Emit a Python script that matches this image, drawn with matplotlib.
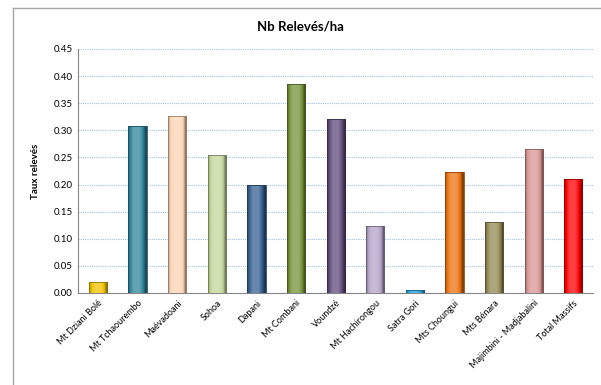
import numpy as np
import matplotlib.pyplot as plt
from matplotlib.colors import to_rgb
from matplotlib.patches import Rectangle
from matplotlib.lines import Line2D

massifs = ['Mt Dziani Bolé', 'Mt Tchaourembo', 'Maévadoani', 'Sohoa', 'Dapani',
           'Mt Combani', 'Voundzé', 'Mt Hachirongou', 'Satra Gori', 'Mts Choungui',
           'Mts Bénara', 'Majimbini - Madjabalini', 'Total Massifs']
taux = [0.020, 0.308, 0.327, 0.255, 0.199, 0.386, 0.321, 0.124, 0.006, 0.223,
        0.131, 0.266, 0.210]
couleurs = ['#F2C200', '#31859C', '#FCD5B5', '#C3D69B', '#376092', '#77933C',
            '#604A7B', '#B3A2C7', '#1FA0DA', '#EE7211', '#948A54', '#D99694',
            '#FF0000']
yticks = np.arange(0, 0.451, 0.05)

plt.rcParams['font.family'] = ['Lato', 'DejaVu Sans']

fig = plt.figure(figsize=(6.01, 3.85), dpi=100)
# bord gris (haut et gauche) du cadre du graphique
x_bord, y_bord = 13 / 601, 1 - 8 / 385
fig.lines.append(Line2D([x_bord, 1.0], [y_bord, y_bord], transform=fig.transFigure,
                        color='#A6A6A6', linewidth=1.0))
fig.lines.append(Line2D([x_bord, x_bord], [0.0, y_bord], transform=fig.transFigure,
                        color='#A6A6A6', linewidth=1.0))
ax = fig.add_axes([0.130, 0.239, 0.857, 0.634])

x = np.arange(len(massifs))
w = 0.46
bars = ax.bar(x, taux, width=w, color=couleurs, zorder=3,
              edgecolor='none')

# ombrage type cylindre
prof = np.linspace(0, 1, 64)
shade = 0.55 + 0.75 * np.sin(np.pi * np.clip(prof * 1.1, 0, 1)) ** 0.6
shade = np.clip(shade, 0.5, 1.25)
for b, c in zip(bars, couleurs):
    rgb = np.array(to_rgb(c))
    img = np.empty((1, len(prof), 3))
    for i, s in enumerate(shade):
        if s <= 1:
            img[0, i] = rgb * s
        else:
            img[0, i] = rgb + (1 - rgb) * (s - 1)
    x0, y0 = b.get_x(), b.get_y()
    bw, bh = b.get_width(), b.get_height()
    im = ax.imshow(img, extent=[x0, x0 + bw, y0, y0 + bh], aspect='auto',
                   zorder=4, interpolation='bilinear')
    im.set_clip_path(b)
    ax.add_patch(Rectangle((x0, y0), bw, bh, fill=False,
                           edgecolor=rgb * 0.6, linewidth=0.6, zorder=5))

ax.set_xlim(-0.5, len(massifs) - 0.5)
ax.set_ylim(0, 0.45)
ax.set_yticks(yticks)
ax.set_yticklabels(['%.2f' % v for v in yticks], fontsize=7)
ax.yaxis.grid(True, linestyle=(0, (1, 1)), color='#9DC3E6', linewidth=0.8, zorder=0)
ax.set_xticks(x)
ax.set_xticklabels(massifs, rotation=45, ha='right', rotation_mode='anchor',
                   fontsize=6.5)
ax.tick_params(axis='both', length=0, pad=4)
for s in ['top', 'right']:
    ax.spines[s].set_visible(False)
for s in ['left', 'bottom']:
    ax.spines[s].set_color('#868686')
ax.set_ylabel('Taux relevés', fontsize=7, fontweight='bold', labelpad=10)

fig.text(0.5, 0.93, 'Nb Relevés/ha', ha='center', va='center', fontsize=9.5,
         fontweight='bold')

fig.savefig('out.png', dpi=100)
